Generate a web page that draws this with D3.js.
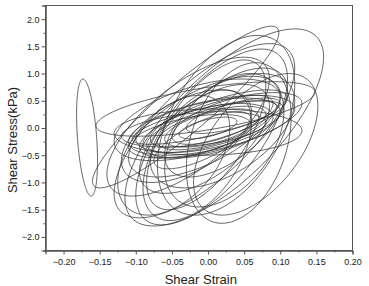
<!DOCTYPE html>
<html>
<head>
<meta charset="utf-8">
<script src="https://cdn.jsdelivr.net/npm/d3@7"></script>
<style>
  body { margin: 0; background: #fff; }
  text { font-family: Arial, "Liberation Sans", sans-serif; }
</style>
</head>
<body>
<svg id="chart"></svg>
<script>
// each loop:
// [min strain, max strain, min stress, max stress, stress at max strain]
const bigLoops = [
  [-0.160, 0.098, -1.10, 1.87, 1.75],
  [-0.115, 0.160, -1.80, 1.82, 1.30],
  [-0.130, 0.120, -1.65, 1.55, 1.10],
  [-0.100, 0.110, -1.78, 1.45, 0.90],
  [-0.085, 0.080, -1.50, 1.25, 0.75],
  [-0.140, 0.085, -1.25, 1.30, 0.90],
  [-0.070, 0.120, -1.60, 1.70, 0.80],
  [-0.030, 0.115, -1.75, 1.20, 0.20],
  [-0.090, 0.060, -1.70, 0.70, 0.10],
  [-0.125, 0.030, -1.60, 0.60, 0.00],
  [-0.060, 0.105, -1.45, 1.00, 0.30],
  [-0.020, 0.152, -1.60, 1.00, 0.40]
];
const midLoops = [
  [-0.110, 0.100, -0.90, 0.95, 0.60],
  [-0.080, 0.120, -1.10, 1.00, 0.50],
  [-0.120, 0.060, -1.00, 0.70, 0.30],
  [-0.095, 0.085, -1.20, 0.80, 0.40],
  [-0.060, 0.110, -0.90, 1.10, 0.70],
  [-0.130, 0.100, -0.60, 0.90, 0.55]
];
const flatLoops = [
  [-0.155, 0.148, -0.15, 0.85, 0.66],
  [-0.130, 0.130, -0.50, 0.35, -0.05],
  [-0.110, 0.120, -0.50, 0.60, 0.35],
  [-0.100, 0.100, -0.45, 0.55, 0.30],
  [-0.090, 0.090, -0.55, 0.45, 0.20],
  [-0.080, 0.110, -0.35, 0.70, 0.55],
  [-0.070, 0.080, -0.40, 0.40, 0.25],
  [-0.060, 0.070, -0.35, 0.35, 0.20],
  [-0.105, 0.095, -0.30, 0.50, 0.40],
  [-0.095, 0.130, -0.55, 0.65, 0.45],
  [-0.075, 0.060, -0.75, 0.30, 0.15],
  [-0.050, 0.090, -0.30, 0.60, 0.45],
  [-0.120, 0.080, -0.35, 0.30, 0.10],
  [-0.040, 0.040, -0.20, 0.20, 0.12],
  [-0.085, 0.105, -0.45, 0.50, 0.35],
  [-0.110, 0.060, -0.55, 0.25, 0.05],
  [-0.030, 0.100, -0.10, 0.55, 0.45]
];
const leftLoop = [-0.182, -0.153, -1.25, 0.90, -0.60];

const xTicks = [-0.20, -0.15, -0.10, -0.05, 0.00, 0.05, 0.10, 0.15, 0.20];
const xMinorTicks = [-0.225, -0.175, -0.125, -0.075, -0.025, 0.025, 0.075, 0.125, 0.175];
const yTicks = [-2.0, -1.5, -1.0, -0.5, 0.0, 0.5, 1.0, 1.5, 2.0];
const yMinorTicks = [-2.25, -1.75, -1.25, -0.75, -0.25, 0.25, 0.75, 1.25, 1.75, 2.25];

const W = 369, H = 286;
const margin = {top: 5.5, right: 16.5, bottom: 35.5, left: 45.5};
const width = W - margin.left - margin.right;
const height = H - margin.top - margin.bottom;

const svg = d3.select('#chart').attr('width', W).attr('height', H);
const chart = svg.append('g')
    .attr('transform', `translate(${margin.left},${margin.top})`);

const x = d3.scaleLinear().domain([-0.225, 0.20]).range([0, width]);
const y = d3.scaleLinear().domain([-2.25, 2.25]).range([height, 0]);

chart.append('clipPath').attr('id', 'plot-clip')
  .append('rect').attr('width', width).attr('height', height);

// turn a loop's extremes into a closed path of points
function loopPoints(d) {
  const cx = (d[0] + d[1]) / 2, a = (d[1] - d[0]) / 2;
  const cy = (d[2] + d[3]) / 2, b = (d[3] - d[2]) / 2;
  const phi = Math.acos(Math.max(-1, Math.min(1, (d[4] - cy) / b)));
  return d3.range(0, 2 * Math.PI, Math.PI / 90)
    .map(t => [cx + a * Math.cos(t), cy + b * Math.cos(t - phi)]);
}

const line = d3.line()
    .x(p => x(p[0]))
    .y(p => y(p[1]))
    .curve(d3.curveLinearClosed);

const loops = [leftLoop].concat(bigLoops, midLoops, flatLoops);

chart.append('g')
    .attr('clip-path', 'url(#plot-clip)')
  .selectAll('path')
  .data(loops)
  .join('path')
    .attr('d', d => line(loopPoints(d)))
    .attr('fill', 'none')
    .attr('stroke', '#333')
    .attr('stroke-width', 0.85)
    .attr('stroke-opacity', 0.9);

// frame
chart.append('rect')
    .attr('width', width).attr('height', height)
    .attr('fill', 'none')
    .attr('stroke', '#555')
    .attr('stroke-width', 1);

// axes
const xAxisG = chart.append('g')
    .attr('transform', `translate(0,${height})`)
    .call(d3.axisBottom(x).tickValues(xTicks).tickSize(4).tickFormat(d3.format('.2f')));
chart.append('g')
    .attr('transform', `translate(0,${height})`)
    .call(d3.axisBottom(x).tickValues(xMinorTicks).tickSize(2).tickFormat(''));

const yAxisG = chart.append('g')
    .call(d3.axisLeft(y).tickValues(yTicks).tickSize(4).tickFormat(d3.format('.1f')));
chart.append('g')
    .call(d3.axisLeft(y).tickValues(yMinorTicks).tickSize(2).tickFormat(''));

chart.selectAll('.domain').attr('stroke', '#555');
chart.selectAll('.tick line').attr('stroke', '#555');
chart.selectAll('.tick text')
    .attr('fill', '#222')
    .style('font-size', '9px')
    .style('font-family', 'Arial, "Liberation Sans", sans-serif');
xAxisG.selectAll('.tick text').attr('y', 8);
yAxisG.selectAll('.tick text').attr('x', -6);

// titles
svg.append('text')
    .attr('x', margin.left + x(-0.01))
    .attr('y', 284)
    .attr('text-anchor', 'middle')
    .attr('fill', '#222')
    .style('font-size', '13px')
    .text('Shear Strain');

svg.append('text')
    .attr('transform', `translate(17,${margin.top + y(-0.22)}) rotate(-90)`)
    .attr('text-anchor', 'middle')
    .attr('fill', '#222')
    .style('font-size', '13px')
    .text('Shear Stress(kPa)');
</script>
</body>
</html>
